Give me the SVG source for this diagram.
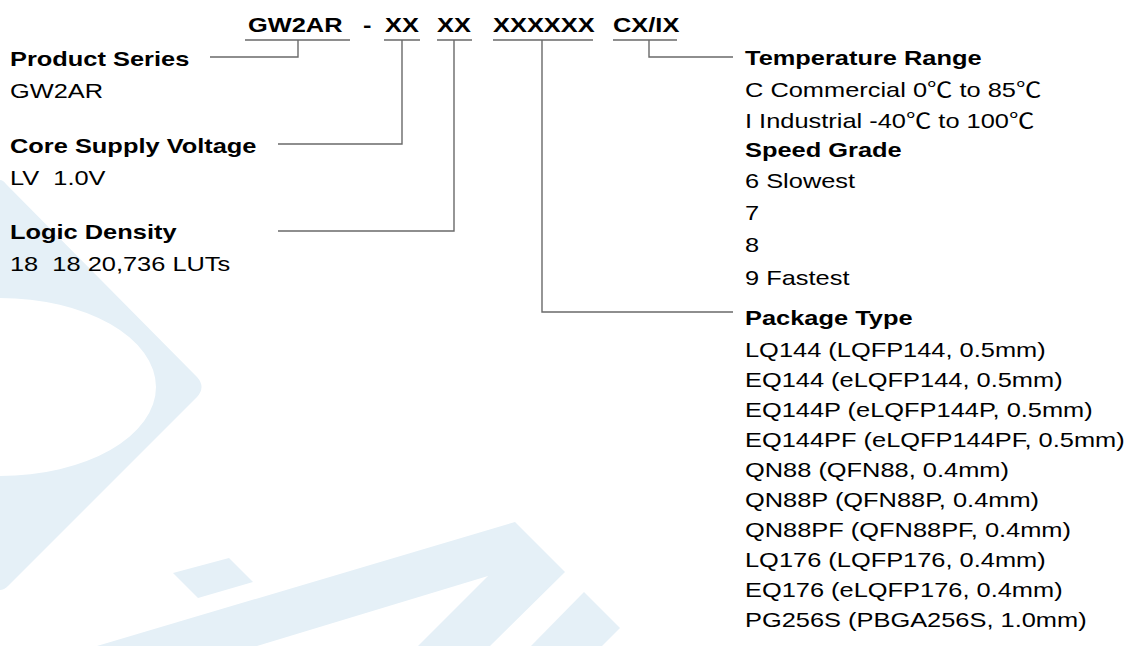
<svg xmlns="http://www.w3.org/2000/svg" width="1143" height="646" viewBox="0 0 1143 646">
<style>
.t{font-family:"Liberation Sans","Noto Sans CJK SC",Arial,sans-serif;font-size:21px;fill:#000;white-space:pre}
.b{font-weight:bold}
.ln{fill:none;stroke:#6a6a6a;stroke-width:1.4}
.wm{fill:#e5f0f7;stroke:none}
</style>
<g id="watermark">
<path class="wm" fill-rule="evenodd" d="M-6,184 Q0,176 6,184 L197,377 Q206,387 197,397 L8,586 Q0,594 -8,586 L-210,387 Z M-156,387 A156,89 0 1 1 156,387 A156,89 0 1 1 -156,387 Z"/>
<polygon class="wm" points="173,573 229,558 253,582 198,598"/>
<polygon class="wm" points="97,646 515,522 565,572 490,646 418,646 488,576 257,646"/>
<polygon class="wm" points="531,646 584,592 620,628 602,646"/>
</g>
<g id="code">
<text class="t b" transform="matrix(1.21 0 0 1 248 32)">GW2AR</text>
<text class="t b" transform="matrix(1.21 0 0 1 363 32)">-</text>
<text class="t b" transform="matrix(1.21 0 0 1 385 32)">XX</text>
<text class="t b" transform="matrix(1.21 0 0 1 437 32)">XX</text>
<text class="t b" transform="matrix(1.21 0 0 1 493 32)">XXXXXX</text>
<text class="t b" transform="matrix(1.21 0 0 1 613 32)">CX/IX</text>
</g>
<g id="connectors">
<path class="ln" d="M245,40 H350 M298,40 V57 H210"/>
<path class="ln" d="M384,40 H420 M402,40 V144 H278"/>
<path class="ln" d="M437,40 H472 M454,40 V231 H278"/>
<path class="ln" d="M493,40 H593 M542,40 V312 H733"/>
<path class="ln" d="M613,40 H677 M649,40 V57 H733"/>
</g>
<g id="product-series">
<text class="t b" transform="matrix(1.21 0 0 1 10 66)">Product Series</text>
<text class="t" transform="matrix(1.21 0 0 1 10 98)">GW2AR</text>
</g>
<g id="core-supply-voltage">
<text class="t b" transform="matrix(1.21 0 0 1 10 153)">Core Supply Voltage</text>
<text class="t" xml:space="preserve" transform="matrix(1.21 0 0 1 10 185)">LV  1.0V</text>
</g>
<g id="logic-density">
<text class="t b" transform="matrix(1.21 0 0 1 10 239)">Logic Density</text>
<text class="t" xml:space="preserve" transform="matrix(1.21 0 0 1 10 271)">18  18 20,736 LUTs</text>
</g>
<g id="temperature-range">
<text class="t b" transform="matrix(1.21 0 0 1 745 65)">Temperature Range</text>
<text class="t" transform="matrix(1.21 0 0 1 745 97)">C Commercial 0℃ to 85℃</text>
<text class="t" transform="matrix(1.21 0 0 1 745 128)">I Industrial -40℃ to 100℃</text>
</g>
<g id="speed-grade">
<text class="t b" transform="matrix(1.21 0 0 1 745 157)">Speed Grade</text>
<text class="t" transform="matrix(1.21 0 0 1 745 188)">6 Slowest</text>
<text class="t" transform="matrix(1.21 0 0 1 745 220)">7</text>
<text class="t" transform="matrix(1.21 0 0 1 745 252)">8</text>
<text class="t" transform="matrix(1.21 0 0 1 745 285)">9 Fastest</text>
</g>
<g id="package-type">
<text class="t b" transform="matrix(1.21 0 0 1 745 325)">Package Type</text>
<text class="t" transform="matrix(1.21 0 0 1 745 357)">LQ144 (LQFP144, 0.5mm)</text>
<text class="t" transform="matrix(1.21 0 0 1 745 387)">EQ144 (eLQFP144, 0.5mm)</text>
<text class="t" transform="matrix(1.21 0 0 1 745 417)">EQ144P (eLQFP144P, 0.5mm)</text>
<text class="t" transform="matrix(1.21 0 0 1 745 447)">EQ144PF (eLQFP144PF, 0.5mm)</text>
<text class="t" transform="matrix(1.21 0 0 1 745 477)">QN88 (QFN88, 0.4mm)</text>
<text class="t" transform="matrix(1.21 0 0 1 745 507)">QN88P (QFN88P, 0.4mm)</text>
<text class="t" transform="matrix(1.21 0 0 1 745 537)">QN88PF (QFN88PF, 0.4mm)</text>
<text class="t" transform="matrix(1.21 0 0 1 745 567)">LQ176 (LQFP176, 0.4mm)</text>
<text class="t" transform="matrix(1.21 0 0 1 745 597)">EQ176 (eLQFP176, 0.4mm)</text>
<text class="t" transform="matrix(1.21 0 0 1 745 627)">PG256S (PBGA256S, 1.0mm)</text>
</g>
</svg>
